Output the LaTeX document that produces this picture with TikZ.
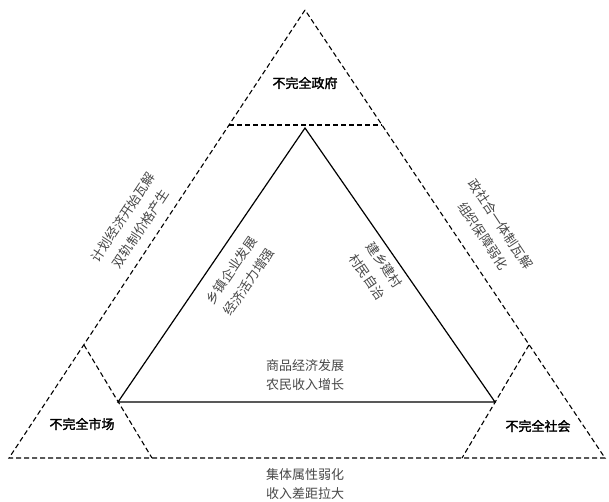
\documentclass[tikz,border=0pt]{standalone}
\usepackage{fontspec}
\newfontfamily\cjk{Noto Sans CJK SC}
\newfontfamily\cjkbold[FakeBold=2]{Noto Sans CJK SC}
\begin{document}
\begin{tikzpicture}[x=1pt,y=-1pt,
  dashline/.style={line width=1.1pt,dash pattern=on 5pt off 3pt},
  solidline/.style={line width=1.2pt},
  lbl/.style={font=\cjkbold\fontsize{13}{15}\selectfont,text=black,inner sep=0pt},
  txt/.style={font=\cjk\fontsize{13}{19}\selectfont,text=black!72,align=center,inner sep=0pt},
  rtxt/.style={font=\cjk\fontsize{13}{21}\selectfont,text=black!72,align=center,inner sep=0pt}]
\useasboundingbox (0,0) rectangle (609,501);
% outer triangle corners
\coordinate (A) at (305,10);
\coordinate (BL) at (9,458);
\coordinate (BR) at (605,458);
% top small triangle base
\coordinate (TL) at (229,125);
\coordinate (TR) at (382,125);
% left and right small triangles
\coordinate (LA) at (84,345);
\coordinate (LB) at (152,458);
\coordinate (RA) at (529,345);
\coordinate (RB) at (462,458);
% inner triangle
\coordinate (I1) at (305,128);
\coordinate (I2) at (118,402);
\coordinate (I3) at (495,402);

\draw[dashline] (A) -- (BL) -- (BR) -- cycle;
\draw[dashline] (TL) -- (TR);
\draw[dashline] (LA) -- (LB);
\draw[dashline] (RA) -- (RB);
\draw[solidline,line join=miter] (I1) -- (I2) -- (I3) -- cycle;

\node[lbl] (gov) at (305,83) {不完全政府};
\node[lbl] (mkt) at (82,424) {不完全市场};
\node[lbl] (soc) at (538,426) {不完全社会};

\node[rtxt,rotate=56.5] (lout) at (132,223) {计划经济开始瓦解\\双轨制价格产生};
\node[rtxt,rotate=-56.5] (rout) at (492,230) {政社合一体制瓦解\\组织保障弱化};
\node[rtxt,rotate=55.7] (lin) at (240,276) {乡镇企业发展\\经济活力增强};
\node[rtxt,rotate=-55.7] (rin) at (376,271) {建乡建村\\村民自治};
\node[txt] (mid) at (305,375) {商品经济发展\\农民收入增长};
\node[txt] (bot) at (305,484) {集体属性弱化\\收入差距拉大};
\end{tikzpicture}
\end{document}
